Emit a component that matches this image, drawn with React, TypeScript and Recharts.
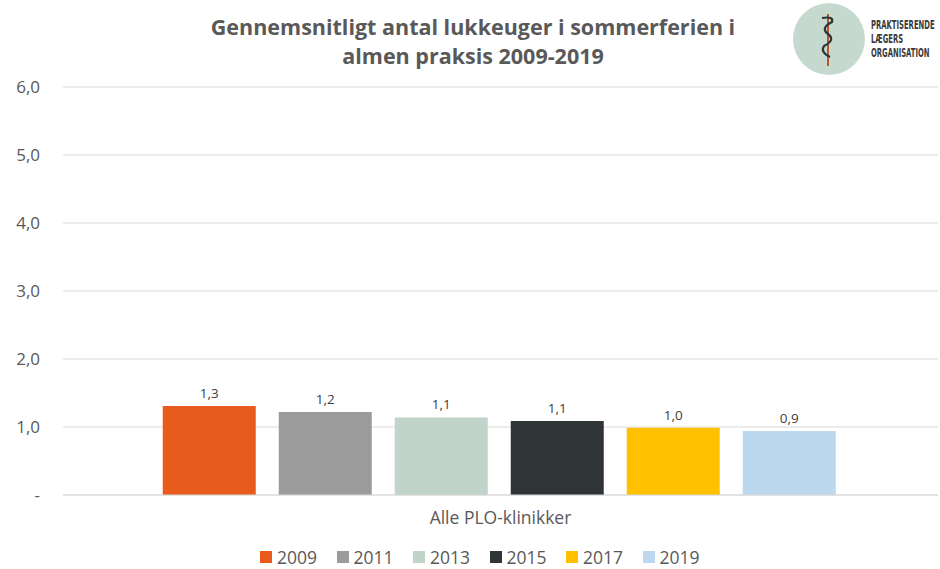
import React from 'react';
import { BarChart, Bar, XAxis, YAxis, CartesianGrid, LabelList } from 'recharts';

// data
const CATEGORY = 'Alle PLO-klinikker';
const YEARS = ['2009', '2011', '2013', '2015', '2017', '2019'];
const VALUES = [1.31, 1.22, 1.14, 1.09, 0.99, 0.94];
const COLORS = ['#E95A1D', '#9B9B9B', '#C0D4C9', '#2F3437', '#FFC000', '#BDD7EE'];
const Y_TICKS = [0, 1, 2, 3, 4, 5, 6];

const TITLE_LINES = ['Gennemsnitligt antal lukkeuger i sommerferien i', 'almen praksis 2009-2019'];
const LOGO_LINES = ['PRAKTISERENDE', 'LÆGERS', 'ORGANISATION'];

const FONT = '"Open Sans", Lato, sans-serif';
const TEXT = '#595959';

const row: Record<string, string | number> = { name: CATEGORY };
YEARS.forEach((y, i) => {
  row['y' + y] = VALUES[i];
});
const chartData = [row];

const fmt = (v: number) => (v === 0 ? '-' : v.toFixed(1).replace('.', ','));

const Logo = () => (
  <>
    <svg width={90} height={80} style={{ position: 'absolute', left: 780, top: 0 }}>
      <circle cx={49} cy={39} r={36} fill="#C6D9CF" />
      <line x1={48} y1={14} x2={48} y2={66} stroke="#B5562B" strokeWidth={2} />
      <path d="M42 18 Q54 16 52 22 Q40 28 48 34 Q56 40 44 46 Q40 52 50 57" fill="none" stroke="#2F3437" strokeWidth={2.2} />
    </svg>
    <div style={{
      position: 'absolute', left: 871, top: 18, fontSize: 11.5, lineHeight: '14px', fontWeight: 700,
      color: '#3A3A3A', fontFamily: '"DejaVu Sans Condensed", "DejaVu Sans", sans-serif',
      transform: 'scaleX(0.66)', transformOrigin: 'left top', whiteSpace: 'nowrap',
    }}>
      {LOGO_LINES.map((t) => (
        <div key={t}>{t}</div>
      ))}
    </div>
  </>
);

export default function App() {
  return (
    <div style={{ position: 'absolute', left: 0, top: 0, width: 940, height: 569, background: '#fff', fontFamily: FONT }}>
      <div style={{ position: 'absolute', left: 0, top: 12, width: 946, textAlign: 'center', color: TEXT, fontWeight: 700, fontSize: 21.5, lineHeight: '29px' }}>
        {TITLE_LINES.map((t) => (
          <div key={t}>{t}</div>
        ))}
      </div>
      <Logo />
      <BarChart
        width={940}
        height={569}
        data={chartData}
        margin={{ top: 87, right: 2, bottom: 0, left: 0 }}
        barCategoryGap="11.4%"
        barGap={23}
      >
        <CartesianGrid vertical={false} stroke="#D9D9D9" />
        <XAxis
          dataKey="name"
          height={74}
          axisLine={{ stroke: '#D9D9D9' }}
          tickLine={false}
          tickMargin={11}
          tick={{ fill: TEXT, fontSize: 17.5, fontFamily: FONT }}
        />
        <YAxis
          width={63}
          domain={[0, 6]}
          ticks={Y_TICKS}
          tickFormatter={fmt}
          axisLine={false}
          tickLine={false}
          tickMargin={17}
          tick={{ fill: TEXT, fontSize: 17, fontFamily: FONT }}
        />
        {YEARS.map((y, i) => (
          <Bar key={y} dataKey={'y' + y} fill={COLORS[i]} isAnimationActive={false}>
            <LabelList dataKey={'y' + y} position="top" offset={8} formatter={(v: any) => fmt(Number(v))}
              fill="#404040" fontSize={13.5} fontFamily={FONT} />
          </Bar>
        ))}
      </BarChart>
      <div style={{ position: 'absolute', left: 260, top: 545, display: 'flex', color: TEXT, fontSize: 17.5, lineHeight: 'normal' }}>
        {YEARS.map((y, i) => (
          <div key={y} style={{ display: 'flex', alignItems: 'center', width: 76.5 }}>
            <span style={{ width: 12, height: 12, background: COLORS[i], marginRight: 5 }} />
            <span>{y}</span>
          </div>
        ))}
      </div>
    </div>
  );
}
